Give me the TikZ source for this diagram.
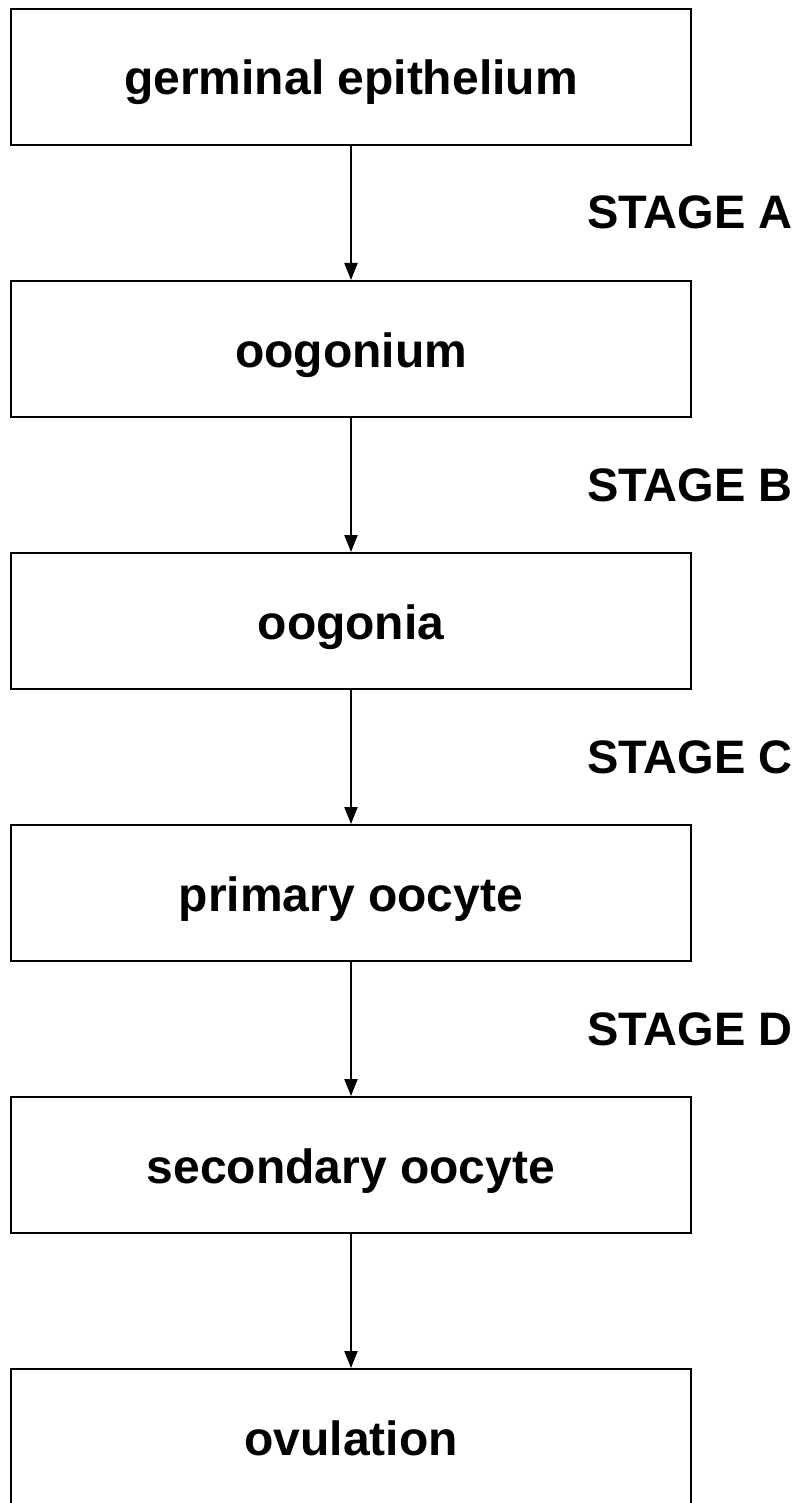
\documentclass[tikz,border=0pt]{standalone}
\usepackage{fontspec}
\setmainfont{Liberation Sans}
\usetikzlibrary{arrows.meta}
\tikzset{
  stagebox/.style={draw=black, line width=2pt, minimum width=680pt, minimum height=136pt,
    inner sep=0pt, font=\bfseries\fontsize{48}{57}\selectfont, text height=40pt, text depth=4pt},
  stagelabel/.style={anchor=base east, inner sep=0pt, font=\bfseries\fontsize{47}{56}\selectfont},
  flow/.style={line width=2pt, -{Triangle[length=17pt,width=13pt]}}
}
\begin{document}
\begin{tikzpicture}[x=1pt,y=-1pt]
\useasboundingbox (0,0) rectangle (798,1503);
\node[stagebox] (b1) at (351,77) {germinal epithelium};
\node[stagebox] (b2) at (351,349) {oogonium};
\node[stagebox] (b3) at (351,621) {oogonia};
\node[stagebox] (b4) at (351,893) {primary oocyte};
\node[stagebox] (b5) at (351,1165) {secondary oocyte};
\node[stagebox] (b6) at (351,1437) {ovulation};
\draw[flow] (b1.south) -- (b2.north);
\draw[flow] (b2.south) -- (b3.north);
\draw[flow] (b3.south) -- (b4.north);
\draw[flow] (b4.south) -- (b5.north);
\draw[flow] (b5.south) -- (b6.north);
\node[stagelabel] (sa) at (793,229) {STAGE A};
\node[stagelabel] (sb) at (793,501) {STAGE B};
\node[stagelabel] (sc) at (793,773) {STAGE C};
\node[stagelabel] (sd) at (793,1045) {STAGE D};
\end{tikzpicture}
\end{document}
